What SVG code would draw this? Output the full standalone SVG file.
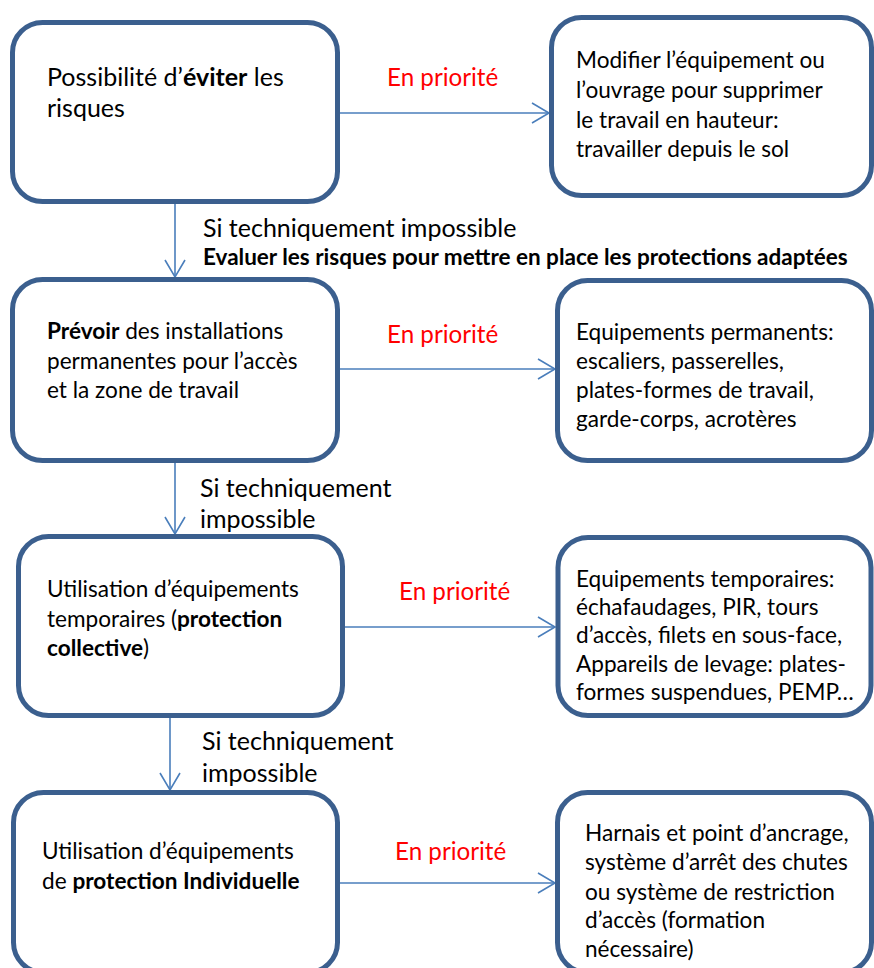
<svg xmlns="http://www.w3.org/2000/svg" width="874" height="968" viewBox="0 0 874 968">
<defs>
<marker id="arr" markerUnits="userSpaceOnUse" markerWidth="22" markerHeight="24" refX="18" refY="11" orient="auto">
<path d="M1,1 L18,11 L1,21" fill="none" stroke="#4A7EBB" stroke-width="1.6"/>
</marker>
<style>
.box{fill:#fff;stroke:#3B5F8E;stroke-width:5}
.t{font-family:Lato,"Open Sans","Liberation Sans",sans-serif;font-size:22.6px;fill:#000}
.big{font-size:25px}
.lbl{font-family:Lato,"Open Sans","Liberation Sans",sans-serif;font-size:25px;fill:#000}
.red{font-family:Lato,"Open Sans","Liberation Sans",sans-serif;font-size:24.2px;fill:#FF0000}
.bold{font-family:Lato,"Open Sans","Liberation Sans",sans-serif;font-size:22.5px;font-weight:bold;fill:#000}
.b{font-weight:bold}
.c{fill:none;stroke:#4A7EBB;stroke-width:1.6;marker-end:url(#arr)}
</style>
</defs>
<rect width="874" height="968" fill="#fff"/>
<g id="connectors">
<line class="c" x1="340" y1="113" x2="549" y2="113"/>
<line class="c" x1="175" y1="204" x2="175" y2="277"/>
<line class="c" x1="340" y1="369" x2="555" y2="369"/>
<line class="c" x1="175" y1="463" x2="175" y2="534"/>
<line class="c" x1="345" y1="627" x2="555" y2="627"/>
<line class="c" x1="170" y1="718" x2="170" y2="790"/>
<line class="c" x1="340" y1="883" x2="555" y2="883"/>
<text class="red" x="387" y="86">En priorité</text>
<text class="red" x="387" y="343">En priorité</text>
<text class="red" x="399" y="600">En priorité</text>
<text class="red" x="395" y="860">En priorité</text>
<text class="lbl" x="203" y="237">Si techniquement impossible</text>
<text class="bold" x="203" y="265">Evaluer les risques pour mettre en place les protections adaptées</text>
<text class="lbl" x="200" y="497">Si techniquement</text>
<text class="lbl" x="200" y="528">impossible</text>
<text class="lbl" x="202" y="750">Si techniquement</text>
<text class="lbl" x="202" y="782">impossible</text>
</g>
<g id="n1">
<rect class="box" x="12.5" y="22.5" width="325" height="179" rx="30"/>
<text class="t big" x="47" y="86">Possibilité d’<tspan class="b">éviter</tspan> les</text>
<text class="t big" x="47" y="117">risques</text>
</g>
<g id="n1r">
<rect class="box" x="551.5" y="17.5" width="320" height="178" rx="30"/>
<text class="t" x="576" y="68">Modifier l’équipement ou</text>
<text class="t" x="576" y="98">l’ouvrage pour supprimer</text>
<text class="t" x="576" y="128">le travail en hauteur:</text>
<text class="t" x="576" y="157">travailler depuis le sol</text>
</g>
<g id="n2">
<rect class="box" x="12.5" y="279.5" width="325" height="181" rx="30"/>
<text class="t" x="47" y="339"><tspan class="b">Prévoir</tspan> des installations</text>
<text class="t" x="47" y="369">permanentes pour l’accès</text>
<text class="t" x="47" y="398">et la zone de travail</text>
</g>
<g id="n2r">
<rect class="box" x="557.5" y="280.5" width="314" height="180" rx="30"/>
<text class="t" x="576" y="340">Equipements permanents:</text>
<text class="t" x="576" y="369">escaliers, passerelles,</text>
<text class="t" x="576" y="398">plates-formes de travail,</text>
<text class="t" x="576" y="427">garde-corps, acrotères</text>
</g>
<g id="n3">
<rect class="box" x="18.5" y="536.5" width="324" height="179" rx="30"/>
<text class="t" x="47" y="597">Utilisation d’équipements</text>
<text class="t" x="47" y="627">temporaires (<tspan class="b">protection</tspan></text>
<text class="t" x="47" y="656"><tspan class="b">collective</tspan>)</text>
</g>
<g id="n3r">
<rect class="box" x="558" y="537.5" width="313" height="178" rx="30"/>
<text class="t" x="576" y="587">Equipements temporaires:</text>
<text class="t" x="576" y="615">échafaudages, PIR, tours</text>
<text class="t" x="576" y="643">d’accès, filets en sous-face,</text>
<text class="t" x="576" y="672">Appareils de levage: plates-</text>
<text class="t" x="576" y="700">formes suspendues, PEMP…</text>
</g>
<g id="n4">
<rect class="box" x="13.5" y="792.5" width="324" height="180" rx="30"/>
<text class="t" x="42" y="859">Utilisation d’équipements</text>
<text class="t" x="42" y="889">de <tspan class="b">protection Individuelle</tspan></text>
</g>
<g id="n4r">
<rect class="box" x="557.5" y="792.5" width="314" height="180" rx="30"/>
<text class="t" x="585" y="841">Harnais et point d’ancrage,</text>
<text class="t" x="585" y="870">système d’arrêt des chutes</text>
<text class="t" x="585" y="900">ou système de restriction</text>
<text class="t" x="585" y="928">d’accès (formation</text>
<text class="t" x="585" y="957">nécessaire)</text>
</g>
</svg>
